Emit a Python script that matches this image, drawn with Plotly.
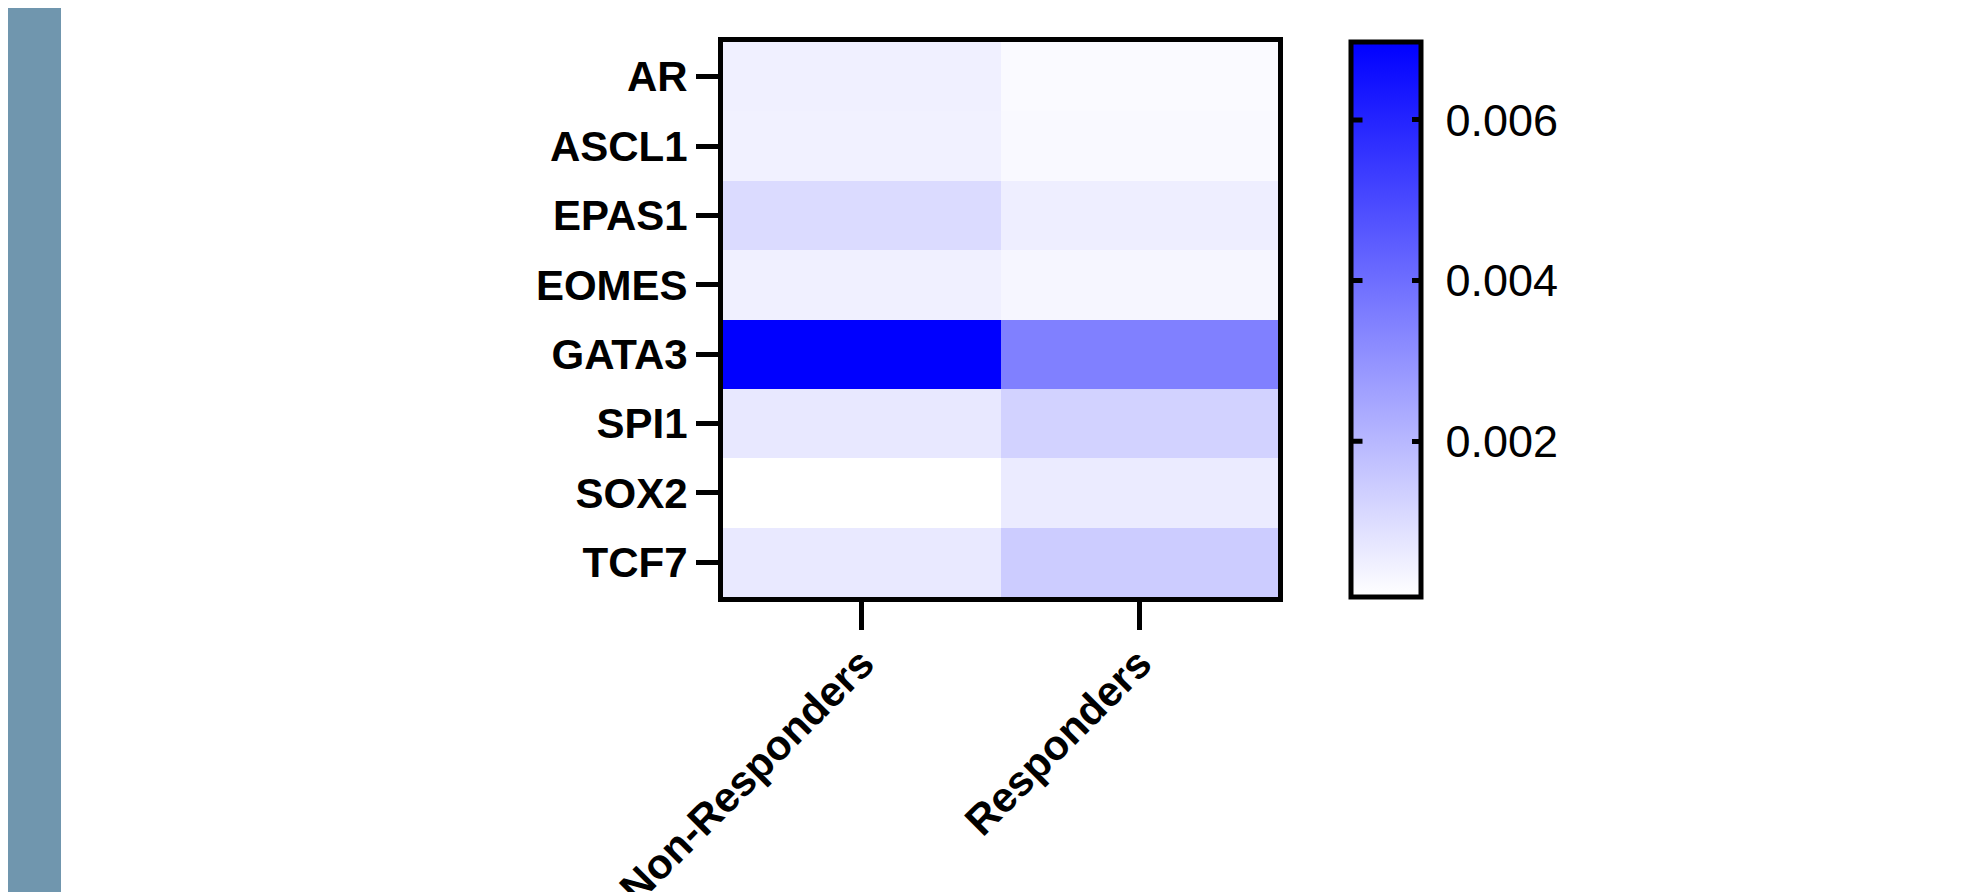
import plotly.graph_objects as go

# ---- data ----
genes = ["AR", "ASCL1", "EPAS1", "EOMES", "GATA3", "SPI1", "SOX2", "TCF7"]
groups = ["Non-Responders", "Responders"]
non_responders = [0.00047, 0.00044, 0.00103, 0.00047, 0.00697, 0.00068, 0.00006, 0.00065]
responders = [0.00020, 0.00023, 0.00052, 0.00030, 0.00350, 0.00128, 0.00060, 0.00144]
cbar_ticks = [0.002, 0.004, 0.006]
cbar_ticktext = ["0.002", "0.004", "0.006"]

z = [[a, b] for a, b in zip(non_responders, responders)]
zmin = min(non_responders + responders)
zmax = max(non_responders + responders)

# ---- layout geometry (figure pixels) ----
W, H = 1969, 892
L, T = 715, 34
heat_right, heat_bottom = 1270, 589
R = W - 1440
B = H - heat_bottom
PW = W - L - R
PH = H - T - B
heat_w = heat_right - L
cb_center_left = 1342.5   # colorbar left edge (outline centre)
cb_thick = 70

font_fam = "Arial, Liberation Sans, sans-serif"

fig = go.Figure()
fig.add_trace(go.Heatmap(
    z=z, x=groups, y=genes,
    zmin=zmin, zmax=zmax,
    colorscale=[[0, "#FFFFFF"], [1, "#0000FF"]],
    colorbar=dict(
        xref="container", x=cb_center_left / W, xanchor="left", xpad=0,
        yref="paper", y=0.5, yanchor="middle", len=1, lenmode="fraction", ypad=0,
        thickness=cb_thick, thicknessmode="pixels",
        outlinewidth=5, outlinecolor="black",
        ticks="inside", ticklen=11, tickwidth=5, tickcolor="black",
        tickvals=cbar_ticks, ticktext=["\u00a0" + t for t in cbar_ticktext],
        tickfont=dict(family=font_fam, size=45, color="black"),
        ticklabelposition="outside",
    ),
))

# mirrored colorbar ticks on the left edge of the bar
cb_left_paper = (cb_center_left + 2.5 - L) / PW
annotations = []
for v in cbar_ticks:
    annotations.append(dict(
        xref="paper", yref="paper",
        x=cb_left_paper, y=(v - zmin) / (zmax - zmin),
        ax=11, ay=0, axref="pixel", ayref="pixel",
        text="", showarrow=True, arrowhead=0, arrowwidth=5,
        arrowcolor="black", standoff=0, startstandoff=0,
    ))

fig.update_layout(
    width=W, height=H,
    margin=dict(l=L, r=R, t=T, b=B, autoexpand=False),
    paper_bgcolor="white", plot_bgcolor="white",
    font=dict(family=font_fam, color="black"),
    xaxis=dict(
        domain=[0, heat_w / PW],
        showgrid=False, zeroline=False,
        showline=True, linewidth=5, linecolor="black", mirror=True,
        ticks="outside", ticklen=28, tickwidth=5, tickcolor="black",
        tickangle=-45, ticklabelstandoff=-8,
        tickfont=dict(family=font_fam, size=42, color="black", weight="bold"),
        automargin=False,
    ),
    yaxis=dict(
        autorange="reversed",
        showgrid=False, zeroline=False,
        showline=True, linewidth=5, linecolor="black", mirror=True,
        ticks="outside", ticklen=22, tickwidth=5, tickcolor="black",
        tickfont=dict(family=font_fam, size=42, color="black", weight="bold"),
        automargin=False,
    ),
    annotations=annotations,
    shapes=[dict(
        type="rect", xref="paper", yref="paper",
        x0=(-6 - L) / PW, x1=(53 - L) / PW,
        y0=-B / PH - 0.01, y1=1 + T / PH + 0.01,
        fillcolor="#7096AE", line=dict(width=0), layer="below",
    )],
)

fig.write_html("out.html")
